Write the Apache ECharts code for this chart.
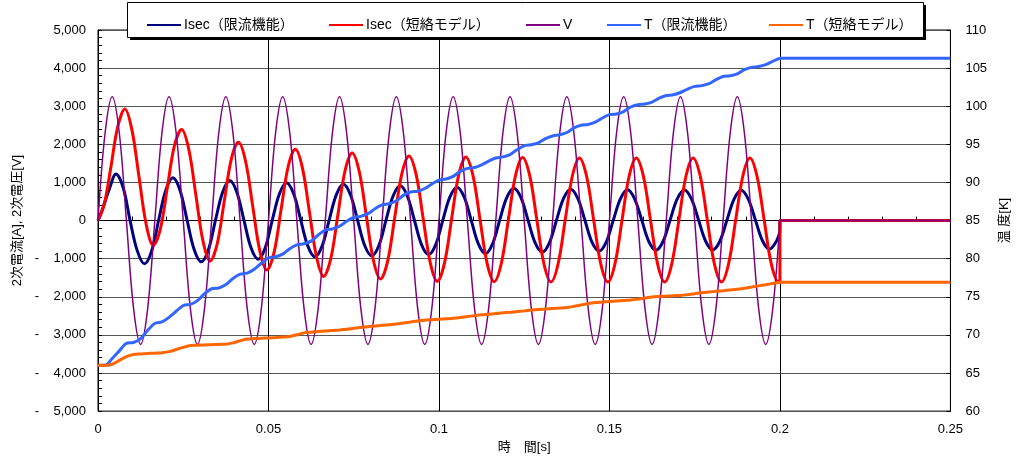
<!DOCTYPE html>
<html><head><meta charset="utf-8">
<script src="https://cdn.jsdelivr.net/npm/echarts@6/dist/echarts.min.js"></script>
<style>html,body{margin:0;padding:0;background:#fff}#c{width:1019px;height:459px}</style>
</head><body><div id="c"></div>
<script>
// shared time base (voltage and temperatures)
const time = [0,0.00208,0.00417,0.00625,0.00833,0.01042,0.0125,0.01458,0.01667,0.01875,0.02083,0.02292,0.025,0.02708,0.02917,0.03125,0.03333,0.03542,0.0375,0.03958,0.04167,0.04375,0.04583,0.04792,0.05,
0.05208,0.05417,0.05625,0.05833,0.06042,0.0625,0.06458,0.06667,0.06875,0.07083,0.07292,0.075,0.07708,0.07917,0.08125,0.08333,0.08542,0.0875,0.08958,0.09167,0.09375,0.09583,0.09792,0.1,
0.10208,0.10417,0.10625,0.10833,0.11042,0.1125,0.11458,0.11667,0.11875,0.12083,0.12292,0.125,0.12708,0.12917,0.13125,0.13333,0.13542,0.1375,0.13958,0.14167,0.14375,0.14583,0.14792,0.15,
0.15208,0.15417,0.15625,0.15833,0.16042,0.1625,0.16458,0.16667,0.16875,0.17083,0.17292,0.175,0.17708,0.17917,0.18125,0.18333,0.18542,0.1875,0.18958,0.19167,0.19375,0.19583,0.19792,0.2];

// Isec (limited) read points
const isecLimitTime = [0,
0.00113,0.00322,0.0053,0.00738,0.00947,0.01155,0.01363,0.01572,
0.0178,0.01988,0.02197,0.02405,0.02613,0.02822,0.0303,0.03238,
0.03447,0.03655,0.03863,0.04072,0.0428,0.04488,0.04697,0.04905,
0.05113,0.05322,0.0553,0.05738,0.05947,0.06155,0.06363,0.06572,
0.0678,0.06988,0.07197,0.07405,0.07613,0.07822,0.0803,0.08238,
0.08447,0.08655,0.08863,0.09072,0.0928,0.09488,0.09697,0.09905,
0.10113,0.10322,0.1053,0.10738,0.10947,0.11155,0.11363,0.11572,
0.1178,0.11988,0.12197,0.12405,0.12613,0.12822,0.1303,0.13238,
0.13447,0.13655,0.13863,0.14072,0.1428,0.14488,0.14697,0.14905,
0.15113,0.15322,0.1553,0.15738,0.15947,0.16155,0.16363,0.16572,
0.1678,0.16988,0.17197,0.17405,0.17613,0.17822,0.1803,0.18238,
0.18447,0.18655,0.18863,0.19072,0.1928,0.19488,0.19697,0.19905,
0.2];
const isecLimit = [0,
250,800,1221,866,-30,-802,-1135,-802,
15,795,1125,795,10,-766,-1083,-766,
15,742,1050,742,10,-716,-1013,-716,
15,703,995,703,10,-672,-950,-672,
12,675,955,675,8,-654,-925,-654,
10,645,912,645,8,-631,-893,-631,
8,619,876,619,6,-612,-865,-612,
8,600,848,600,8,-585,-828,-585,
10,583,824,583,10,-566,-800,-566,
12,571,808,571,12,-550,-778,-550,
14,566,800,566,14,-543,-768,-543,
15,560,792,560,15,-530,-750,-530,
-290];

// Isec (short-circuit model) read points
const isecShortTime = [0,0.00185,
0.0037,0.00578,0.00787,0.00995,0.01203,0.01412,0.0162,0.01828,
0.02037,0.02245,0.02453,0.02662,0.0287,0.03078,0.03287,0.03495,
0.03703,0.03912,0.0412,0.04328,0.04537,0.04745,0.04953,0.05162,
0.0537,0.05578,0.05787,0.05995,0.06203,0.06412,0.0662,0.06828,
0.07037,0.07245,0.07453,0.07662,0.0787,0.08078,0.08287,0.08495,
0.08703,0.08912,0.0912,0.09328,0.09537,0.09745,0.09953,0.10162,
0.1037,0.10578,0.10787,0.10995,0.11203,0.11412,0.1162,0.11828,
0.12037,0.12245,0.12453,0.12662,0.1287,0.13078,0.13287,0.13495,
0.13703,0.13912,0.1412,0.14328,0.14537,0.14745,0.14953,0.15162,
0.1537,0.15578,0.15787,0.15995,0.16203,0.16412,0.1662,0.16828,
0.17037,0.17245,0.17453,0.17662,0.1787,0.18078,0.18287,0.18495,
0.18703,0.18912,0.1912,0.19328,0.19537,0.19745,0.19953,
0.2];
const isecShort = [0,440,
1357,2457,2925,2378,1144,-95,-650,-222,
885,1980,2390,1872,672,-535,-1065,-616,
506,1620,2052,1556,383,-795,-1299,-844,
287,1418,1870,1382,211,-965,-1465,-994,
158,1307,1774,1286,120,-1047,-1532,-1063,
84,1230,1696,1217,55,-1109,-1595,-1118,
40,1196,1670,1190,33,-1125,-1603,-1127,
28,1183,1657,1178,23,-1133,-1610,-1134,
19,1169,1644,1169,17,-1135,-1610,-1135,
17,1169,1644,1169,17,-1135,-1610,-1135,
17,1169,1644,1169,17,-1135,-1610,-1134,
18,1168,1644,1166,18,-1130,-1600,
-1597];

const voltage = [0,2298,3250,2298,0,-2298,-3250,-2298,
0,2298,3250,2298,0,-2298,-3250,-2298,
0,2298,3250,2298,0,-2298,-3250,-2298,
0,2298,3250,2298,0,-2298,-3250,-2298,
0,2298,3250,2298,0,-2298,-3250,-2298,
0,2298,3250,2298,0,-2298,-3250,-2298,
0,2298,3250,2298,0,-2298,-3250,-2298,
0,2298,3250,2298,0,-2298,-3250,-2298,
0,2298,3250,2298,0,-2298,-3250,-2298,
0,2298,3250,2298,0,-2298,-3250,-2298,
0,2298,3250,2298,0,-2298,-3250,-2298,
0,2298,3250,2298,0,-2298,-3250,-2298,
0];

const tempLimit = [66.0,66.0,66.9,67.9,68.9,69.0,69.5,70.6,71.5,
71.7,72.3,73.1,73.85,74.0,74.5,75.4,76.05,
76.15,76.6,77.4,77.96,78.1,78.6,79.4,80.1,
80.25,80.6,81.3,81.8,81.95,82.3,83.1,83.75,
83.9,84.25,84.9,85.4,85.55,85.9,86.55,87.05,
87.2,87.6,88.3,88.75,88.85,89.2,89.8,90.3,
90.45,90.8,91.45,91.85,91.95,92.3,92.8,93.2,
93.35,93.65,94.3,94.8,94.95,95.2,95.75,96.1,
96.25,96.55,97.15,97.5,97.6,97.9,98.45,98.9,
98.97,99.3,99.9,100.2,100.3,100.55,101.05,101.4,
101.5,101.8,102.25,102.6,102.7,102.95,103.5,103.9,
104.0,104.25,104.8,105.1,105.2,105.45,105.9,106.3];

const tempShort = [66.0,66.0,66.15,66.65,67.15,67.43,67.49,67.55,67.6,
67.66,67.8,68.08,68.36,68.6,68.64,68.68,68.71,
68.75,68.78,68.95,69.23,69.45,69.51,69.56,69.6,
69.65,69.71,69.79,70.02,70.26,70.36,70.43,70.5,
70.57,70.64,70.73,70.86,70.98,71.08,71.16,71.25,
71.34,71.43,71.56,71.69,71.83,71.93,71.99,72.05,
72.11,72.17,72.27,72.4,72.52,72.63,72.71,72.8,
72.89,72.97,73.06,73.15,73.25,73.33,73.39,73.46,
73.52,73.59,73.74,73.93,74.11,74.24,74.3,74.37,
74.44,74.51,74.57,74.69,74.84,74.98,75.04,75.09,
75.14,75.18,75.28,75.41,75.54,75.63,75.72,75.8,
75.89,75.98,76.12,76.27,76.43,76.58,76.74,76.9];

// after switching off at 0.2 s
const tailTime = [0.2, 0.2, 0.25];
const isecLimitTail = [-290, 0, 0];
const isecShortTail = [-1597, 0, 0];
const voltageTail = [0, 0, 0];
const tempLimitTail = [106.3, 106.3, 106.3];
const tempShortTail = [76.9, 76.9, 76.9];

const seriesNames = ['Isec（限流機能）', 'Isec（短絡モデル）', 'V', 'T（限流機能）', 'T（短絡モデル）'];
const xTickLabels = ['0', '0.05', '0.1', '0.15', '0.2', '0.25'];
const leftTickLabels = ['-    5,000','-    4,000','-    3,000','-    2,000','-    1,000','0','1,000','2,000','3,000','4,000','5,000'];
const rightTickLabels = ['60','65','70','75','80','85','90','95','100','105','110'];

const FONT = "'Liberation Sans','Noto Sans CJK JP',sans-serif";
const pairs = (xs, ys) => xs.map((x, i) => [x, ys[i]]);

const colors = ['#000080', '#FF0000', '#800080', '#3366FF', '#FF6600'];
const widths = [3, 3, 1.5, 3, 3];
const tailWidths = [3, 3, 2, 3, 3];
const mainX = [isecLimitTime, isecShortTime, time, time, time];
const mains = [isecLimit, isecShort, voltage, tempLimit, tempShort];
const tails = [isecLimitTail, isecShortTail, voltageTail, tempLimitTail, tempShortTail];

const series = [];
for (let i = 0; i < 5; i++) {
  const common = {
    name: seriesNames[i], type: 'line', symbol: 'none', yAxisIndex: i >= 3 ? 1 : 0,
    itemStyle: { color: colors[i] }, silent: true
  };
  series.push(Object.assign({}, common, {
    data: pairs(mainX[i], mains[i]), smooth: i >= 3 ? 0.3 : 0.35, z: 2,
    lineStyle: { color: colors[i], width: widths[i] }
  }));
  series.push(Object.assign({}, common, {
    data: pairs(tailTime, tails[i]), smooth: false, z: i === 2 ? 3 : 2,
    lineStyle: { color: colors[i], width: tailWidths[i] }
  }));
}

const legendLeft = [142, 324, 521, 602, 764];
const legends = seriesNames.map((n, i) => ({
  data: [n], left: legendLeft[i], top: 13, icon: 'rect', itemWidth: 34, itemHeight: 2, itemGap: 0,
  textStyle: { fontSize: 14, color: '#000', fontFamily: FONT, padding: [0, 0, 0, -2] },
  selectedMode: false, z: 5
}));

const chart = echarts.init(document.getElementById('c'), null, { renderer: 'canvas' });
chart.setOption({
  animation: false,
  backgroundColor: '#fff',
  textStyle: { fontFamily: FONT },
  grid: { left: 98, right: 61, top: 30, bottom: 44, show: true, borderColor: '#000', borderWidth: 1, containLabel: false },
  graphic: [{
    type: 'rect', z: 3,
    shape: { x: 130, y: 5, width: 796, height: 35 },
    style: { fill: '#000' }
  }, {
    type: 'rect', z: 3,
    shape: { x: 127.5, y: 2.5, width: 796, height: 35 },
    style: { fill: '#fff', stroke: '#000', lineWidth: 1 }
  }],
  legend: legends,
  xAxis: {
    type: 'value', min: 0, max: 0.25, interval: 0.05,
    axisLine: { show: true, lineStyle: { color: '#000', width: 1 } },
    axisTick: { show: true, inside: true, length: 4, lineStyle: { color: '#000' } },
    minorTick: { show: true, splitNumber: 5, length: 4, lineStyle: { color: '#000' } },
    splitLine: { show: true, lineStyle: { color: '#000', width: 1 } },
    axisLabel: { color: '#000', fontSize: 13, margin: 12, formatter: v => xTickLabels[Math.round(v / 0.05)] },
    name: '時　間[s]', nameLocation: 'middle', nameGap: 29,
    nameTextStyle: { color: '#000', fontSize: 13, fontFamily: FONT }
  },
  yAxis: [{
    type: 'value', min: -5000, max: 5000, interval: 1000,
    axisLine: { show: true, lineStyle: { color: '#000', width: 1 } },
    axisTick: { show: true, inside: true, length: 4, lineStyle: { color: '#000' } },
    minorTick: { show: true, splitNumber: 5, length: 4, lineStyle: { color: '#000' } },
    splitLine: { show: true, lineStyle: { color: '#555', width: 1 } },
    axisLabel: { color: '#000', fontSize: 13, margin: 12, formatter: v => leftTickLabels[Math.round((v + 5000) / 1000)] },
    name: '2次電流[A], 2次電圧[V]', nameLocation: 'middle', nameGap: 70,
    nameTextStyle: { color: '#000', fontSize: 13, fontFamily: FONT }
  }, {
    type: 'value', min: 60, max: 110, interval: 5, position: 'right',
    axisLine: { show: true, lineStyle: { color: '#000', width: 1 } },
    axisTick: { show: true, inside: true, length: 4, lineStyle: { color: '#000' } },
    splitLine: { show: false },
    axisLabel: { color: '#000', fontSize: 13, margin: 15, formatter: v => rightTickLabels[Math.round((v - 60) / 5)] },
    name: '温 度[K]', nameLocation: 'middle', nameGap: 40, nameRotate: 90,
    nameTextStyle: { color: '#000', fontSize: 13, fontFamily: FONT }
  }],
  series: series
});
</script>
</body></html>
